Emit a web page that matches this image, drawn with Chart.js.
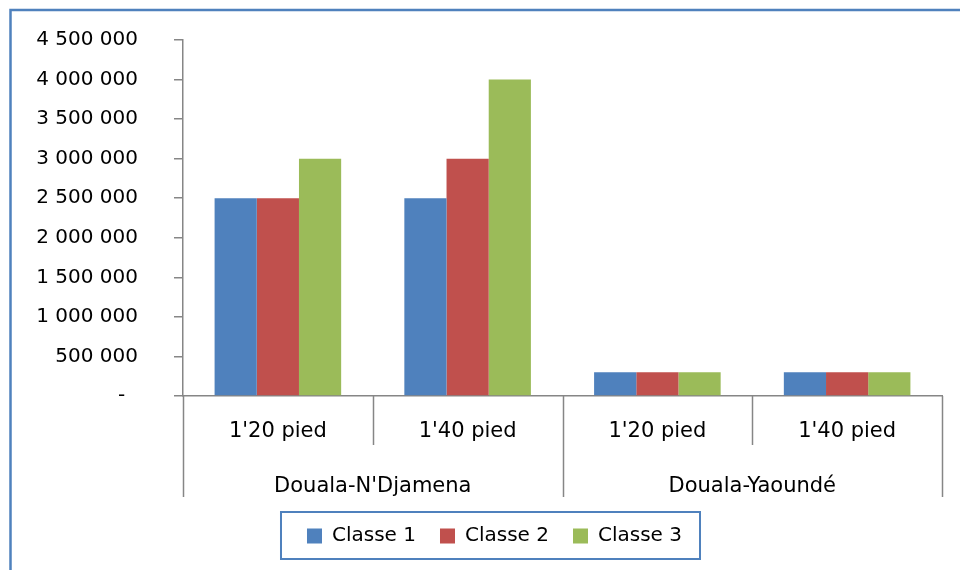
<!DOCTYPE html>
<html>
<head>
<meta charset="utf-8">
<script src="https://cdn.jsdelivr.net/npm/chart.js@4/dist/chart.umd.min.js"></script>
<style>
  html, body { margin: 0; padding: 0; background: #fff; }
  #wrap { width: 960px; height: 570px; position: relative; }
</style>
</head>
<body>
<div id="wrap"><canvas id="c" width="960" height="570"></canvas></div>
<script>
// Tarifs par classe, trajet et type de conteneur
const categories = ["1'20 pied", "1'40 pied", "1'20 pied", "1'40 pied"];
const routes = ["Douala-N'Djamena", "Douala-Yaoundé"];
const seriesNames = ["Classe 1", "Classe 2", "Classe 3"];
const classe1 = [2500000, 2500000, 300000, 300000];
const classe2 = [2500000, 3000000, 300000, 300000];
const classe3 = [3000000, 4000000, 300000, 300000];
const yTicksMax = 4500000;
const yTickStep = 500000;

const colors = ['#4F81BD', '#C0504D', '#9BBB59'];
const axisGrey = '#868686';
const FONT = 'DejaVu Sans';

function fmt(v) {
  if (v === 0) return '-  ';
  return String(v).replace(/\B(?=(\d{3})+(?!\d))/g, ' ');
}

// Frame, multi-level category separators, route labels and legend frame
const decor = {
  id: 'decor',
  afterLayout(chart) {
    // nudge the legend block to the right
    chart.legend.left += 13.5;
    chart.legend.right += 13.5;
  },
  beforeDraw(chart) {
    const ctx = chart.ctx;
    ctx.save();
    ctx.fillStyle = '#fff';
    ctx.fillRect(0, 0, chart.width, chart.height);
    ctx.strokeStyle = '#4F81BD';
    ctx.lineWidth = 2.5;
    ctx.beginPath();
    ctx.moveTo(10.5, chart.height + 5);
    ctx.lineTo(10.5, 10);
    ctx.lineTo(chart.width + 5, 10);
    ctx.stroke();
    ctx.restore();
  },
  afterDraw(chart) {
    const ctx = chart.ctx;
    const x = chart.scales.x;
    const area = chart.chartArea;
    const n = categories.length;
    const bounds = [];
    for (let i = 0; i <= n; i++) {
      if (i === 0) bounds.push(area.left);
      else if (i === n) bounds.push(area.right);
      else bounds.push((x.getPixelForValue(i - 1) + x.getPixelForValue(i)) / 2);
    }
    const lvl1 = area.bottom + 49;
    const lvl2 = area.bottom + 101;
    ctx.save();
    ctx.strokeStyle = axisGrey;
    ctx.lineWidth = 1.5;
    bounds.forEach((b, i) => {
      const px = Math.round(b) + 0.5;
      ctx.beginPath();
      ctx.moveTo(px, area.bottom);
      ctx.lineTo(px, i % 2 === 0 ? lvl2 : lvl1);
      ctx.stroke();
    });
    ctx.fillStyle = '#000';
    ctx.font = '21px "' + FONT + '"';
    ctx.textAlign = 'center';
    ctx.textBaseline = 'middle';
    routes.forEach((r, i) => {
      const cx = (bounds[2 * i] + bounds[2 * i + 2]) / 2;
      ctx.fillText(r, cx, area.bottom + 91);
    });
    // legend frame
    const hb = chart.legend.legendHitBoxes;
    if (hb && hb.length) {
      const first = hb[0], last = hb[hb.length - 1];
      const cy = first.top + first.height / 2;
      ctx.strokeStyle = '#4F81BD';
      ctx.lineWidth = 2;
      const l = first.left - 26;
      const r = last.left + last.width + 18;
      ctx.strokeRect(l, cy - 24, r - l, 47);
    }
    ctx.restore();
  }
};

new Chart(document.getElementById('c'), {
  type: 'bar',
  data: {
    labels: categories,
    datasets: [
      { label: seriesNames[0], data: classe1, backgroundColor: colors[0] },
      { label: seriesNames[1], data: classe2, backgroundColor: colors[1] },
      { label: seriesNames[2], data: classe3, backgroundColor: colors[2] }
    ]
  },
  options: {
    responsive: false,
    animation: false,
    layout: { padding: { left: 20, right: 18, top: 40, bottom: 14 } },
    datasets: { bar: { categoryPercentage: 0.667, barPercentage: 1.0 } },
    plugins: {
      tooltip: { enabled: false },
      legend: {
        position: 'bottom',
        labels: {
          boxWidth: 15, boxHeight: 15, padding: 24,
          color: '#000',
          font: { family: FONT, size: 20 }
        }
      }
    },
    scales: {
      x: {
        grid: { display: false },
        border: { display: true, color: axisGrey, width: 1.5 },
        ticks: { color: '#000', padding: 15, font: { family: FONT, size: 21 }, maxRotation: 0 },
        afterFit(scale) { scale.height = 106; }
      },
      y: {
        min: 0, max: yTicksMax,
        grid: { display: true, drawOnChartArea: false, tickLength: 9, color: axisGrey, lineWidth: 1.5 },
        border: { display: true, color: axisGrey, width: 1.5 },
        ticks: {
          stepSize: yTickStep, color: '#000', padding: 36,
          font: { family: FONT, size: 20 },
          callback: (v) => fmt(v)
        },
        afterFit(scale) {
          scale.width = 163;
          scale.paddingTop = 0;
          scale.paddingBottom = 0;
        }
      }
    }
  },
  plugins: [decor]
});
</script>
</body>
</html>
